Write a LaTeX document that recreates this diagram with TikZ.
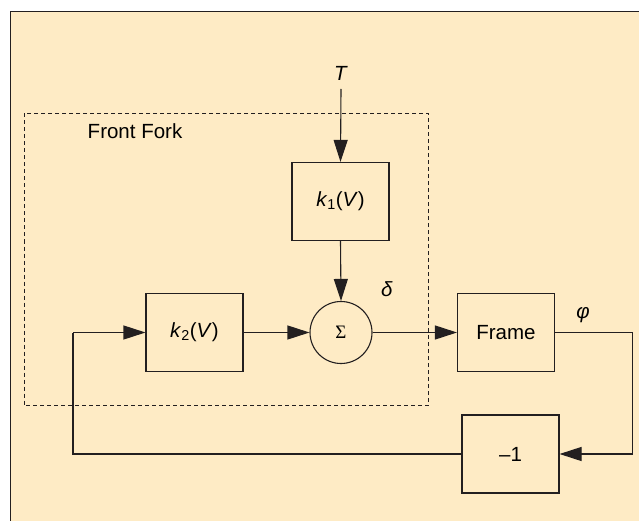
\documentclass[tikz,border=0pt]{standalone}
\usepackage{fontspec}
\setmainfont{Liberation Sans}
\newfontfamily\sigfont{Liberation Serif}
\usetikzlibrary{arrows.meta}
\definecolor{bg}{RGB}{254,235,197}
\definecolor{ln}{RGB}{35,31,32}
\begin{document}
\begin{tikzpicture}[x=1pt,y=-1pt,
  blk/.style={draw=ln,line width=1.1pt,minimum width=97pt,minimum height=78pt,inner sep=0pt,font=\fontsize{20.5}{24}\selectfont},
  lbl/.style={inner sep=0pt,font=\fontsize{20.5}{24}\selectfont},
  conn/.style={draw=ln,line width=1.1pt},
  arr/.style={conn,-{Triangle[length=22pt,width=14pt]}}]
\useasboundingbox (0,0) rectangle (639,521);
\fill[white] (0,0) rectangle (639,521);
\filldraw[fill=bg,draw=ln,line width=1.1pt] (10.5,11.5) -- (639.5,11.5) -- (639.5,521.5) -- (10.5,521.5) -- cycle;
\draw[ln,line width=1pt,dash pattern=on 4pt off 3pt] (24,113.5) rectangle (428.5,405.5);
\node[lbl] (ff) at (135,131) {Front Fork};
\node[lbl] (T) at (341,73) {\textit{T}};
\coordinate (Ts) at (341,89);
\node[blk] (k1) at (340.5,201.5) {\textit{k}\textsubscript{1}(\textit{V})};
\node[draw=ln,line width=1.1pt,circle,minimum size=62pt,inner sep=0pt,font=\sigfont\fontsize{19}{22}\selectfont] (sum) at (341,332.5) {Σ};
\node[blk] (k2) at (194.5,332.5) {\textit{k}\textsubscript{2}(\textit{V})};
\node[blk] (fr) at (506,332.5) {Frame};
\node[blk] (m1) at (510.5,454) {–1};
\node[lbl] (d) at (387,289) {\textit{δ}};
\node[lbl] (p) at (583,315) {\textit{φ}};
\coordinate (r) at (632.5,332.5);
\coordinate (rb) at (632.5,454);
\coordinate (lb) at (73,454);
\coordinate (lt) at (73,332.5);
\draw[arr] (Ts) -- (k1.north);
\draw[arr] (k1.south) -- (sum.north);
\draw[arr] (k2.east) -- (sum.west);
\draw[arr] (sum.east) -- (fr.west);
\draw[conn] (fr.east) -- (r) -- (rb);
\draw[arr] (rb) -- (m1.east);
\draw[conn] (m1.west) -- (lb) -- (lt);
\draw[arr] (lt) -- (k2.west);
\end{tikzpicture}
\end{document}
